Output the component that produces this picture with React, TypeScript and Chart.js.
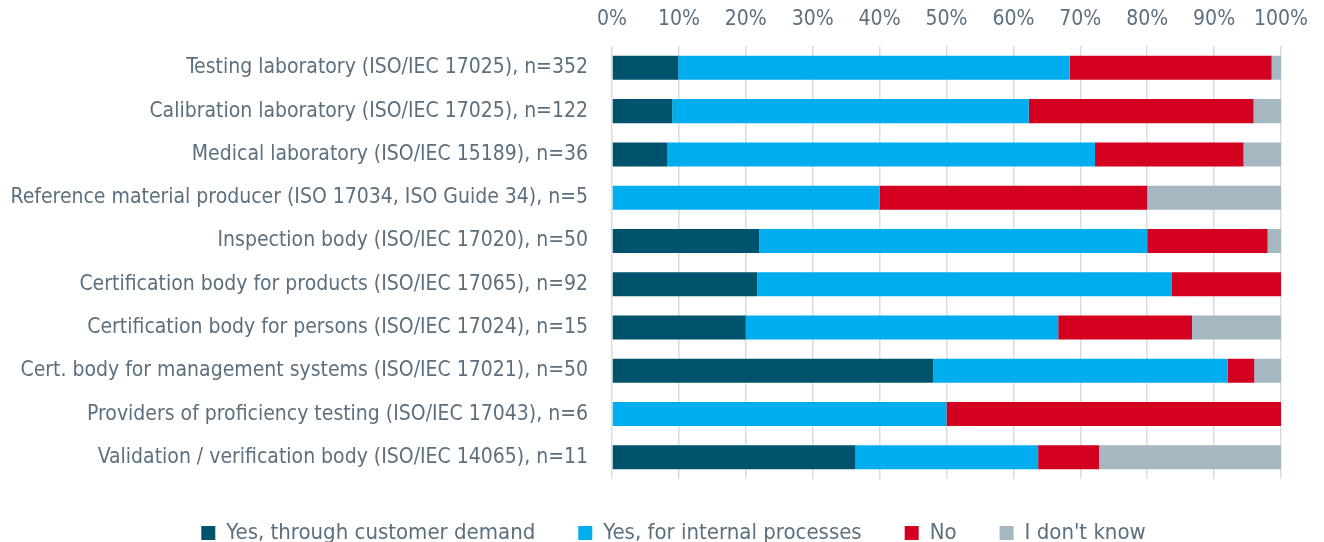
import React, { useEffect, useRef } from "react";
import { Chart, registerables } from "chart.js";

Chart.register(...registerables);

const categories = [
  "Testing laboratory (ISO/IEC 17025), n=352",
  "Calibration laboratory (ISO/IEC 17025), n=122",
  "Medical laboratory (ISO/IEC 15189), n=36",
  "Reference material producer (ISO 17034, ISO Guide 34), n=5",
  "Inspection body (ISO/IEC 17020), n=50",
  "Certification body for products (ISO/IEC 17065), n=92",
  "Certification body for persons (ISO/IEC 17024), n=15",
  "Cert. body for management systems (ISO/IEC 17021), n=50",
  "Providers of proficiency testing (ISO/IEC 17043), n=6",
  "Validation / verification body (ISO/IEC 14065), n=11",
];

const yesCustomer = [9.9, 9.0, 8.3, 0, 22, 21.7, 20, 48, 0, 36.4];
const yesInternal = [58.5, 53.3, 63.9, 40, 58, 62.0, 46.7, 44, 50, 27.3];
const noValues = [30.2, 33.6, 22.2, 40, 18, 16.3, 20, 4, 50, 9.1];
const dontKnow = [1.4, 4.1, 5.6, 20, 2, 0, 13.3, 4, 0, 27.3];

const seriesNames = [
  "Yes, through customer demand",
  "Yes, for internal processes",
  "No",
  "I don't know",
];
const xTicks = [0, 10, 20, 30, 40, 50, 60, 70, 80, 90, 100];

const COLORS = ["#00536c", "#00aeef", "#d40020", "#a5b7c1"];
const TEXT = "#5c6f7e";
const FONT = "'Liberation Sans Narrow', 'DejaVu Sans Condensed', sans-serif";
const LEGEND_SHIFT = 66;

const legendShift = {
  id: "legendShift",
  afterUpdate(chart: any) {
    const lg = chart.legend;
    if (!lg) return;
    lg.left += LEGEND_SHIFT;
    lg.adjustHitBoxes();
  },
};

export default function App() {
  const ref = useRef<HTMLCanvasElement | null>(null);
  useEffect(() => {
    document.body.style.margin = "0";
    const values = [yesCustomer, yesInternal, noValues, dontKnow];
    const chart = new Chart(ref.current!, {
      type: "bar",
      data: {
        labels: categories,
        datasets: seriesNames.map((name, i) => ({
          label: name,
          data: values[i],
          backgroundColor: COLORS[i],
          borderWidth: 0,
          categoryPercentage: 1,
          barPercentage: 0.555,
        })),
      },
      plugins: [legendShift],
      options: {
        indexAxis: "y",
        responsive: false,
        animation: false,
        layout: { padding: { left: 0, right: 43, top: 0, bottom: 0 } },
        plugins: {
          tooltip: { enabled: false },
          legend: {
            position: "bottom",
            labels: {
              boxWidth: 14,
              boxHeight: 14,
              padding: 43,
              color: TEXT,
              font: { family: FONT, size: 22 },
            },
          },
        },
        scales: {
          x: {
            position: "top",
            stacked: true,
            min: 0,
            max: 100,
            afterBuildTicks: (s: any) => {
              s.ticks = xTicks.map((v) => ({ value: v }));
            },
            ticks: {
              color: TEXT,
              font: { family: FONT, size: 21 },
              padding: 14,
              callback: (v: any) => v + "%",
            },
            grid: { color: "#d6dee4", lineWidth: 1.5, drawTicks: false },
            border: { display: false },
          },
          y: {
            stacked: true,
            afterFit: (s: any) => {
              s.width = 612;
            },
            ticks: {
              color: TEXT,
              font: { family: FONT, size: 21 },
              padding: 16,
            },
            grid: { display: false },
            border: { display: false },
          },
        },
      },
    });
    return () => chart.destroy();
  }, []);
  return (
    <canvas
      ref={ref}
      width={1324}
      height={561}
      style={{ display: "block", marginTop: -7 }}
    />
  );
}
